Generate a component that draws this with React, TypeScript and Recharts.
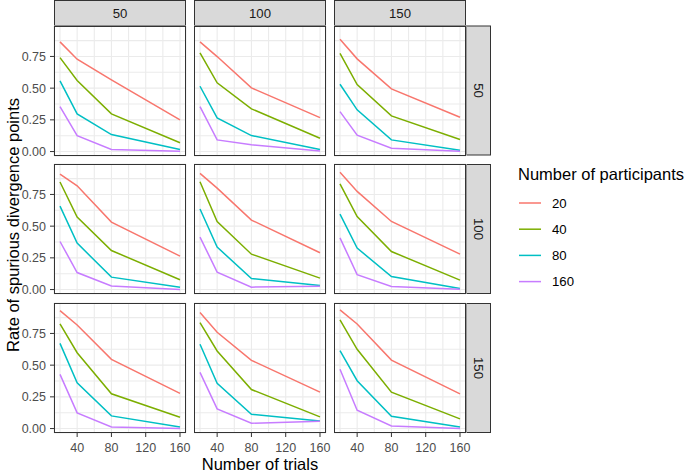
import { CartesianGrid, Line, LineChart, XAxis, YAxis } from "recharts";

// facet labels
const trialFacets = ["50", "100", "150"]; // columns (strip on top)
const rowFacets = ["50", "100", "150"]; // rows (strip on right)

const trials = [20, 40, 80, 160];
const participants = ["20", "40", "80", "160"];
const colors = ["#F8766D", "#7CAE00", "#00BFC4", "#C77CFF"];

const xTicks = [20, 40, 60, 80, 100, 120, 140, 160];
const xMajor = [40, 80, 120, 160];
const yTicks = [0, 0.125, 0.25, 0.375, 0.5, 0.625, 0.75, 0.875];
const yMajor = [0, 0.25, 0.5, 0.75];

// rate[row][col] -> values at trials 20, 40, 80, 160
const rate20 = [
  [[0.865, 0.728, 0.565, 0.25], [0.865, 0.749, 0.502, 0.268], [0.886, 0.731, 0.494, 0.27]],
  [[0.911, 0.818, 0.532, 0.264], [0.916, 0.8, 0.548, 0.29], [0.924, 0.774, 0.537, 0.279]],
  [[0.93, 0.817, 0.546, 0.277], [0.915, 0.759, 0.538, 0.287], [0.936, 0.825, 0.54, 0.274]],
];
const rate40 = [
  [[0.741, 0.56, 0.297, 0.069], [0.778, 0.542, 0.337, 0.105], [0.775, 0.528, 0.281, 0.095]],
  [[0.848, 0.571, 0.308, 0.077], [0.85, 0.537, 0.279, 0.09], [0.834, 0.576, 0.3, 0.074]],
  [[0.825, 0.598, 0.274, 0.089], [0.835, 0.612, 0.308, 0.092], [0.857, 0.625, 0.287, 0.076]],
];
const rate80 = [
  [[0.557, 0.297, 0.134, 0.016], [0.515, 0.266, 0.126, 0.016], [0.531, 0.329, 0.092, 0.01]],
  [[0.658, 0.366, 0.098, 0.019], [0.635, 0.335, 0.087, 0.032], [0.595, 0.327, 0.103, 0.008]],
  [[0.672, 0.361, 0.1, 0.013], [0.665, 0.356, 0.113, 0.06], [0.614, 0.377, 0.097, 0.013]],
];
const rate160 = [
  [[0.355, 0.126, 0.016, 0.003], [0.355, 0.092, 0.053, 0.005], [0.315, 0.129, 0.026, 0.003]],
  [[0.379, 0.134, 0.029, 0.0], [0.414, 0.137, 0.019, 0.027], [0.408, 0.118, 0.024, 0.003]],
  [[0.427, 0.124, 0.013, 0.0], [0.443, 0.155, 0.042, 0.058], [0.467, 0.145, 0.021, 0.0]],
];
const rates = [rate20, rate40, rate80, rate160];

const colLeft = [54, 194, 334];
const rowTop = [25.5, 164, 303];
const panelW = 132;
const panelH = 130;
const stripW = 25;
const pad = 10;

const font = '"Liberation Sans", Arial, Helvetica, sans-serif';

function YTick({ x, y, payload }: any) {
  if (!yMajor.includes(payload.value)) return <g />;
  return (
    <g>
      <line x1={x - 4} x2={x} y1={y} y2={y} stroke="#333333" strokeWidth={1} />
      <text x={x - 8} y={y} dy="0.35em" textAnchor="end" fontSize={12.5} fill="#4d4d4d" fontFamily={font}>
        {payload.value.toFixed(2)}
      </text>
    </g>
  );
}

function XTick({ x, y, payload }: any) {
  if (!xMajor.includes(payload.value)) return <g />;
  return (
    <g>
      <line x1={x} x2={x} y1={y} y2={y + 4} stroke="#333333" strokeWidth={1} />
      <text x={x} y={y + 15} dy="0.35em" textAnchor="middle" fontSize={12.5} fill="#4d4d4d" fontFamily={font}>
        {payload.value}
      </text>
    </g>
  );
}

function Panel({ row, col }: { row: number; col: number }) {
  const showY = col === 0;
  const showX = row === 2;
  const yW = showY ? 54 : 0;
  const xH = showX ? 26 : 0;
  const data = trials.map((t, i) => {
    const d: Record<string, number> = { trials: t };
    participants.forEach((p, k) => {
      d["p" + p] = rates[k][row][col][i];
    });
    return d;
  });

  return (
    <>
      <div style={{ position: "absolute", left: colLeft[col] - yW, top: rowTop[row] - pad }}>
        <LineChart
          width={panelW + yW + pad}
          height={panelH + xH + pad * (showX ? 1 : 2)}
          data={data}
          margin={{ top: pad, right: pad, bottom: showX ? 0 : pad, left: 0 }}
        >
          <CartesianGrid stroke="#ebebeb" strokeWidth={1.1} fill="#ffffff" />
          <XAxis
            type="number"
            dataKey="trials"
            domain={[13, 167]}
            ticks={xTicks}
            interval={0}
            hide={!showX}
            height={xH}
            tickSize={0}
            tickMargin={0}
            tickLine={false}
            axisLine={false}
            tick={XTick}
            allowDataOverflow
          />
          <YAxis
            type="number"
            domain={[-0.035, 0.99]}
            ticks={yTicks}
            interval={0}
            hide={!showY}
            width={yW}
            tickSize={0}
            tickMargin={0}
            tickLine={false}
            axisLine={false}
            tick={YTick}
            allowDataOverflow
          />
          {participants.map((p, k) => (
            <Line
              key={p}
              type="linear"
              dataKey={"p" + p}
              stroke={colors[k]}
              strokeWidth={1.5}
              dot={false}
              activeDot={false}
              isAnimationActive={false}
            />
          ))}
        </LineChart>
      </div>
      <div
        style={{
          position: "absolute",
          left: colLeft[col],
          top: rowTop[row],
          width: panelW,
          height: panelH,
          border: "1px solid #333333",
          boxSizing: "border-box",
          pointerEvents: "none",
        }}
      />
    </>
  );
}

export default function App() {
  const right = colLeft[2] + panelW;
  return (
    <div
      style={{
        position: "absolute",
        left: 0,
        top: 0,
        width: 685,
        height: 471,
        background: "#ffffff",
        fontFamily: font,
        overflow: "hidden",
      }}
    >
      <svg width={685} height={471} style={{ position: "absolute", left: 0, top: 0 }}>
        {trialFacets.map((f, c) => (
          <g key={"top" + f}>
            <rect
              x={colLeft[c] + 0.5}
              y={0.5}
              width={panelW - 1}
              height={rowTop[0] - 0.5}
              fill="#d9d9d9"
              stroke="#333333"
              strokeWidth={1}
            />
            <text
              x={colLeft[c] + panelW / 2}
              y={13}
              dy="0.35em"
              textAnchor="middle"
              fontSize={13.2}
              fill="#1a1a1a"
            >
              {f}
            </text>
          </g>
        ))}
        {rowFacets.map((f, r) => {
          const cx = right + stripW / 2;
          const cy = rowTop[r] + panelH / 2;
          return (
            <g key={"right" + f}>
              <rect
                x={right + 0.5}
                y={rowTop[r] + 0.5}
                width={stripW - 1}
                height={panelH - 1}
                fill="#d9d9d9"
                stroke="#333333"
                strokeWidth={1}
              />
              <text
                x={cx}
                y={cy}
                dy="0.35em"
                textAnchor="middle"
                fontSize={13.2}
                fill="#1a1a1a"
                transform={`rotate(90, ${cx}, ${cy})`}
              >
                {f}
              </text>
            </g>
          );
        })}
        <text x={260} y={469.5} textAnchor="middle" fontSize={16.5} fill="#000000">
          Number of trials
        </text>
        <text
          x={13}
          y={225}
          dy="0.35em"
          textAnchor="middle"
          fontSize={16.5}
          fill="#000000"
          transform="rotate(-90, 13, 225)"
        >
          Rate of spurious divergence points
        </text>
        <text x={518} y={180} fontSize={16.5} fill="#000000">
          Number of participants
        </text>
        {participants.map((p, k) => {
          const cy = 203 + k * 26.2;
          return (
            <g key={"leg" + p}>
              <line x1={519} x2={541} y1={cy} y2={cy} stroke={colors[k]} strokeWidth={1.5} />
              <text x={552} y={cy} dy="0.35em" fontSize={13.2} fill="#000000">
                {p}
              </text>
            </g>
          );
        })}
      </svg>
      {rowFacets.map((_, r) => trialFacets.map((_, c) => <Panel key={r + "-" + c} row={r} col={c} />))}
    </div>
  );
}
